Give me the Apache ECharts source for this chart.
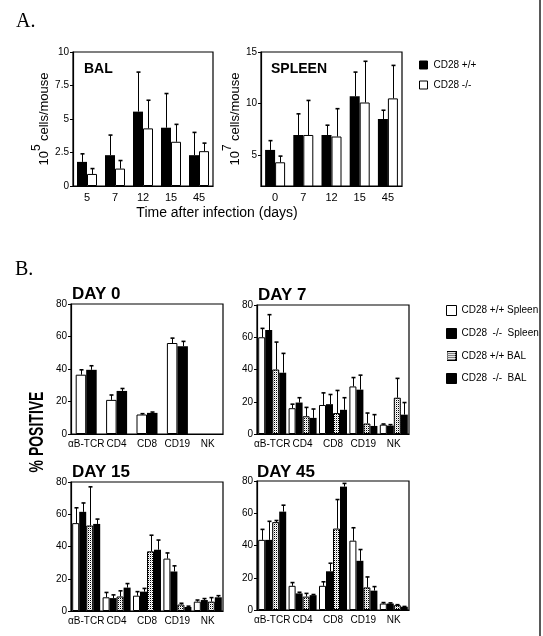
<!DOCTYPE html>
<html><head><meta charset="utf-8">
<script src="https://cdn.jsdelivr.net/npm/echarts@6/dist/echarts.min.js"></script>
<style>html,body{margin:0;padding:0;background:#fff}#c{width:543px;height:636px}</style>
</head><body><div id="c"></div>
<script>
// ---------- Panel A data ----------
const daysBAL = ['5', '7', '12', '15', '45'];
const balWT = [1.8, 2.3, 5.55, 4.35, 2.3];
const balWTerr = [2.4, 3.8, 8.5, 6.9, 4.0];
const balKO = [0.9, 1.3, 4.3, 3.3, 2.6];
const balKOerr = [1.3, 1.9, 6.4, 4.6, 3.2];

const daysSpleen = ['0', '7', '12', '15', '45'];
const spWT = [5.5, 6.95, 6.95, 10.7, 8.5];
const spWTerr = [6.4, 9.0, 7.9, 13.05, 9.35];
const spKO = [4.3, 6.95, 6.8, 10.1, 10.5];
const spKOerr = [4.9, 10.3, 9.5, 14.1, 13.7];

const balTicks = [0, 2.5, 5, 7.5, 10];
const spleenTicks = [5, 10, 15];

// ---------- Panel B data ----------
const cellTypes = ['αB-TCR', 'CD4', 'CD8', 'CD19', 'NK'];
const pctTicks = [0, 20, 40, 60, 80];

const d0SpWT = [36.5, 21, 12, 56, null];
const d0SpWTerr = [39.5, 24, 12.5, 59, null];
const d0SpKO = [39.5, 26.5, 13, 54, null];
const d0SpKOerr = [42, 28, 13.5, 57, null];

const d7SpWT = [60, 16, 18, 29.5, 5.8];
const d7SpWTerr = [65.5, 18.5, 25.5, 35, 6.2];
const d7SpKO = [64.5, 19.5, 18.5, 27.5, 5.2];
const d7SpKOerr = [74, 22.5, 24.5, 36.5, 5.8];
const d7BalWT = [40, 11, 13, 6.5, 22.5];
const d7BalWTerr = [57, 16.5, 27, 13, 34.5];
const d7BalKO = [38, 10, 15, 5, 12];
const d7BalKOerr = [50, 15.5, 22.5, 12, 19.5];

const d15SpWT = [54.5, 8.5, 9.5, 32.5, 5.8];
const d15SpWTerr = [64, 11.5, 12, 36, 6.8];
const d15SpKO = [61.5, 8, 12, 24.5, 6.8];
const d15SpKOerr = [67, 10, 14, 28, 7.7];
const d15BalWT = [53, 9, 37, 4, 5.8];
const d15BalWTerr = [77, 12.5, 47, 4.8, 8.3];
const d15BalKO = [54, 14.5, 38, 2.5, 8.5];
const d15BalKOerr = [57, 17, 44, 3, 9.5];

const d45SpWT = [43.5, 15, 15, 43, 4];
const d45SpWTerr = [50, 17, 17.5, 51, 4.6];
const d45SpKO = [43.5, 10.3, 24, 30.5, 4];
const d45SpKOerr = [55, 11, 29, 37.5, 4.4];
const d45BalWT = [54.5, 8.3, 50.5, 14, 3];
const d45BalWTerr = [55.5, 10.3, 68.5, 20.5, 3.3];
const d45BalKO = [61, 9.2, 76.5, 12, 2];
const d45BalKOerr = [65, 9.6, 78.5, 14.5, 2.2];

// ---------- rendering ----------
const FONT = '"Liberation Sans", Arial, Helvetica, sans-serif';
const pc = document.createElement('canvas');
pc.width = 2; pc.height = 2;
const pctx = pc.getContext('2d');
pctx.fillStyle = '#fff'; pctx.fillRect(0, 0, 2, 2);
pctx.fillStyle = '#000'; pctx.fillRect(0, 0, 1, 1);
pctx.fillStyle = '#ccc'; pctx.fillRect(1, 1, 1, 1);
const dotted = { image: pc, repeat: 'repeat' };

// legend icon for the dotted series (10x10 with border)
const ic = document.createElement('canvas');
ic.width = 10; ic.height = 10;
const ictx = ic.getContext('2d');
ictx.fillStyle = '#fff'; ictx.fillRect(0, 0, 10, 10);
for (let i = 0; i < 10; i++) for (let j = 0; j < 10; j++) {
  if (i % 2 === 0 && j % 2 === 0) { ictx.fillStyle = '#000'; ictx.fillRect(i, j, 1, 1); }
  else if (i % 2 === 1 && j % 2 === 1) { ictx.fillStyle = '#ccc'; ictx.fillRect(i, j, 1, 1); }
}
ictx.strokeStyle = '#000'; ictx.lineWidth = 1; ictx.strokeRect(0.5, 0.5, 9, 9);
const dottedIcon = 'image://' + ic.toDataURL();

const grids = [
  [73, 52, 140, 134],
  [261, 52, 141, 134],
  [71, 304, 152, 130],
  [257, 305, 152, 129],
  [71, 482, 152, 129],
  [257, 481, 152, 129]
];

function mkGrid(g) {
  return { left: g[0], top: g[1], width: g[2], height: g[3], show: true,
    borderColor: '#000', borderWidth: 1.2, backgroundColor: 'transparent',
    containLabel: false, outerBoundsMode: 'none' };
}

function mkX(gi, data, fs, margin) {
  return { gridIndex: gi, type: 'category', data: data,
    axisLine: { lineStyle: { color: '#000', width: 1.2 } },
    axisTick: { alignWithLabel: true, length: 3, lineStyle: { color: '#000' } },
    axisLabel: { color: '#000', fontSize: fs, margin: margin, fontFamily: FONT, interval: 0 },
    splitLine: { show: false } };
}

function mkY(gi, min, max, ticks, extra) {
  const y = { gridIndex: gi, type: 'value', min: min, max: max,
    axisLine: { show: true, lineStyle: { color: '#000', width: 1.2 } },
    axisTick: { show: true, length: 3, lineStyle: { color: '#000' }, customValues: ticks },
    axisLabel: { color: '#000', fontSize: 10, margin: 4, fontFamily: FONT, customValues: ticks },
    splitLine: { show: false } };
  return Object.assign(y, extra || {});
}

const series = [];
function addBars(gi, name, vals, errs, color, idx, n, w) {
  const isWhite = color === '#fff';
  series.push({ type: 'bar', name: name, xAxisIndex: gi, yAxisIndex: gi, data: vals,
    barWidth: w, barGap: '0%',
    itemStyle: { color: color, borderColor: '#000', borderWidth: isWhite || color === dotted ? 1 : 0 },
    emphasis: { disabled: true }, z: 2 });
  const off = (idx - (n - 1) / 2) * w;
  const data = [];
  vals.forEach((v, i) => { if (v != null && errs[i] != null) data.push([i, v, errs[i]]); });
  series.push({ type: 'custom', xAxisIndex: gi, yAxisIndex: gi, data: data, silent: true, z: 3,
    renderItem: function (params, api) {
      const p = api.coord([api.value(0), api.value(1)]);
      const q = api.coord([api.value(0), api.value(2)]);
      const x = Math.round(p[0] + off) + 0.5;
      return { type: 'group', children: [
        { type: 'line', shape: { x1: x, y1: p[1], x2: x, y2: q[1] }, style: { stroke: '#000', lineWidth: 1 } },
        { type: 'line', shape: { x1: x - 2, y1: q[1], x2: x + 2, y2: q[1] }, style: { stroke: '#000', lineWidth: 1.6 } }
      ] };
    } });
}

// Panel A
addBars(0, 'CD28 +/+', balWT, balWTerr, '#000', 0, 2, 10);
addBars(0, 'CD28 -/-', balKO, balKOerr, '#fff', 1, 2, 10);
addBars(1, 'CD28 +/+', spWT, spWTerr, '#000', 0, 2, 10);
addBars(1, 'CD28 -/-', spKO, spKOerr, '#fff', 1, 2, 10);
// Panel B
const N1 = 'CD28 +/+ Spleen', N2 = 'CD28  -/-  Spleen', N3 = 'CD28 +/+ BAL', N4 = 'CD28  -/-  BAL';
addBars(2, N1, d0SpWT, d0SpWTerr, '#fff', 0, 2, 10.5);
addBars(2, N2, d0SpKO, d0SpKOerr, '#000', 1, 2, 10.5);
[[3, [d7SpWT, d7SpWTerr], [d7SpKO, d7SpKOerr], [d7BalWT, d7BalWTerr], [d7BalKO, d7BalKOerr]],
 [4, [d15SpWT, d15SpWTerr], [d15SpKO, d15SpKOerr], [d15BalWT, d15BalWTerr], [d15BalKO, d15BalKOerr]],
 [5, [d45SpWT, d45SpWTerr], [d45SpKO, d45SpKOerr], [d45BalWT, d45BalWTerr], [d45BalKO, d45BalKOerr]]
].forEach(r => {
  addBars(r[0], N1, r[1][0], r[1][1], '#fff', 0, 4, 7);
  addBars(r[0], N2, r[2][0], r[2][1], '#000', 1, 4, 7);
  addBars(r[0], N3, r[3][0], r[3][1], dotted, 2, 4, 7);
  addBars(r[0], N4, r[4][0], r[4][1], '#000', 3, 4, 7);
});

function txt(x, y, s, font, extra) {
  return Object.assign({ type: 'text', x: x, y: y, silent: true,
    style: { text: s, font: font, fill: '#000', textVerticalAlign: 'middle' } }, extra || {});
}
const border = { borderColor: '#000', borderWidth: 1 };

const option = {
  animation: false,
  backgroundColor: '#fff',
  grid: grids.map(mkGrid),
  xAxis: [
    mkX(0, daysBAL, 11, 6), mkX(1, daysSpleen, 11, 6),
    mkX(2, cellTypes, 10, 5), mkX(3, cellTypes, 10, 5),
    mkX(4, cellTypes, 10, 5), mkX(5, cellTypes, 10, 5)
  ],
  yAxis: [
    mkY(0, 0, 10, balTicks, { name: '{a|10}{s|5} {a|cells/mouse}', nameLocation: 'middle', nameGap: 22,
      nameTextStyle: { rich: { a: { fontSize: 13, fontFamily: FONT, color: '#000', lineHeight: 20, verticalAlign: 'bottom' },
        s: { fontSize: 12, fontFamily: FONT, color: '#000', lineHeight: 20, verticalAlign: 'top' } } } }),
    mkY(1, 2, 15, spleenTicks, { name: '{a|10}{s|7} {a|cells/mouse}', nameLocation: 'middle', nameGap: 14,
      nameTextStyle: { rich: { a: { fontSize: 13, fontFamily: FONT, color: '#000', lineHeight: 20, verticalAlign: 'bottom' },
        s: { fontSize: 12, fontFamily: FONT, color: '#000', lineHeight: 20, verticalAlign: 'top' } } } }),
    mkY(2, 0, 80, pctTicks), mkY(3, 0, 80, pctTicks), mkY(4, 0, 80, pctTicks), mkY(5, 0, 80, pctTicks)
  ],
  legend: [
    { data: [{ name: 'CD28 +/+', itemStyle: border }, { name: 'CD28 -/-', itemStyle: border }],
      orient: 'vertical', left: 414, top: 55, itemWidth: 8, itemHeight: 8, itemGap: 10, icon: 'rect',
      selectedMode: false, textStyle: { fontSize: 10, color: '#000', fontFamily: FONT, padding: [0, 0, 0, 1] } },
    { data: [{ name: N1, itemStyle: border }, { name: N2, itemStyle: border },
             { name: N3, icon: dottedIcon }, { name: N4, itemStyle: border }],
      orient: 'vertical', left: 441, top: 300, itemWidth: 10, itemHeight: 10, itemGap: 12, icon: 'rect',
      selectedMode: false, textStyle: { fontSize: 10, color: '#000', fontFamily: FONT, padding: [0, 0, 0, 0] } }
  ],
  graphic: [
    txt(16, 22, 'A.', '20px "Liberation Serif", "Times New Roman", serif'),
    txt(15, 270, 'B.', '20px "Liberation Serif", "Times New Roman", serif'),
    txt(84, 69, 'BAL', 'bold 14px ' + FONT),
    txt(271, 69, 'SPLEEN', 'bold 14px ' + FONT),
    { type: 'text', x: 217, y: 213, silent: true,
      style: { text: 'Time after infection (days)', font: '14px ' + FONT, fill: '#000', textAlign: 'center', textVerticalAlign: 'middle' } },
    txt(72, 294, 'DAY 0', 'bold 17px ' + FONT),
    txt(258, 295, 'DAY 7', 'bold 17px ' + FONT),
    txt(72, 472.5, 'DAY 15', 'bold 17px ' + FONT),
    txt(257, 472.5, 'DAY 45', 'bold 17px ' + FONT),
    { type: 'text', x: 37, y: 432, rotation: Math.PI / 2, scaleX: 0.7, silent: true,
      style: { text: '% POSITIVE', font: 'bold 20px ' + FONT, fill: '#000', textAlign: 'center', textVerticalAlign: 'middle' } },
    { type: 'line', silent: true, shape: { x1: 540, y1: 0, x2: 540, y2: 636 }, style: { stroke: '#222', lineWidth: 1.5 } }
  ],
  series: series
};

const chart = echarts.init(document.getElementById('c'), null, { renderer: 'canvas' });
chart.setOption(option);
</script></body></html>
